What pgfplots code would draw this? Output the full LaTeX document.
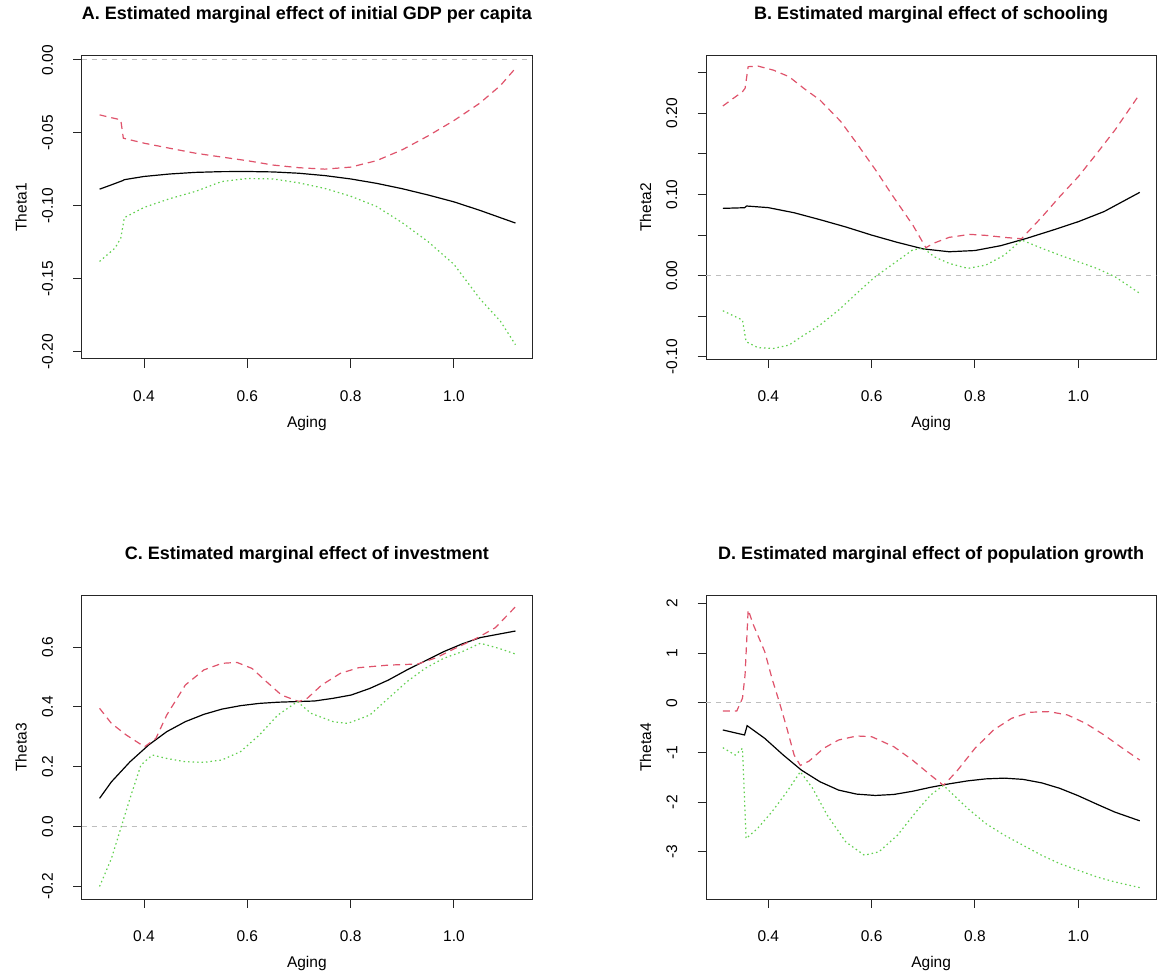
\documentclass[border=0pt]{standalone}
\usepackage{pgfplots}
\pgfplotsset{compat=1.18}
\usepackage{fontspec}
\setmainfont{Liberation Sans}
\definecolor{rred}{HTML}{DF536B}
\definecolor{rgreen}{HTML}{61D04F}
\definecolor{rgray}{HTML}{BEBEBE}
\pgfplotsset{
  rpanel/.style={
    scale only axis, width=450.3pt, height=303.3pt,
    xmin=0.2794, xmax=1.151,
    axis line style={black!85, line width=1pt},
    tick style={black!85, line width=1pt},
    tick align=outside, major tick length=8.5pt,
    xtick pos=left, ytick pos=left,
    xtick={0.4,0.6,0.8,1.0}, xticklabels={0.4,0.6,0.8,1.0},
    ticklabel style={font=\fontsize{15.5}{18}\selectfont, inner sep=0pt},
    xticklabel style={anchor=north, yshift=-22.7pt},
    yticklabel style={xshift=-20pt, rotate=90, anchor=south},
    xlabel={Aging},
    label style={font=\fontsize{15.5}{18}\selectfont},
    xlabel style={at={(axis description cs:0.5,-0.2268)}, anchor=base},
    ylabel style={at={(axis description cs:-0.1221,0.5)}, anchor=base},
    title style={at={(axis description cs:0.5,1.098)}, anchor=base, font=\fontsize{18}{21}\selectfont\bfseries},
    every axis plot/.append style={line width=1.2pt},
  },
  est/.style={black, solid},
  up/.style={rred, dash pattern=on 7pt off 5pt},
  lo/.style={rgreen, dash pattern=on 1.5pt off 3pt},
  zero/.style={rgray, dash pattern=on 5pt off 5pt, line width=1pt},
}
\begin{document}
\begin{tikzpicture}
\path[use as bounding box] (0,0) rectangle (1159pt,-976pt);
% ---------------- A
\begin{axis}[rpanel, at={(81.7pt,-55.7pt)}, anchor=north west,
  ymin=-0.2048, ymax=0.0029,
  ytick={-0.2,-0.15,-0.1,-0.05,0}, yticklabels={-0.20,-0.15,-0.10,-0.05,0.00},
  ylabel={Theta1},
  title={A. Estimated marginal effect of initial GDP per capita}]
\addplot[zero] coordinates {(0.2794,0) (1.151,0)};
\addplot[est] coordinates {
(0.314,-0.0885) (0.335,-0.0858) (0.359,-0.0826) (0.362,-0.0820) (0.40,-0.0798)
(0.45,-0.0781) (0.50,-0.0770) (0.55,-0.0765) (0.60,-0.0764) (0.65,-0.0767)
(0.70,-0.0776) (0.75,-0.0792) (0.80,-0.0815) (0.85,-0.0845) (0.90,-0.0882)
(0.95,-0.0925) (1.00,-0.0972) (1.05,-0.1030) (1.119,-0.1117)};
\addplot[up] coordinates {
(0.314,-0.0376) (0.330,-0.0390) (0.355,-0.0410) (0.360,-0.0536) (0.40,-0.0570)
(0.45,-0.0605) (0.50,-0.0639) (0.55,-0.0665) (0.60,-0.0690) (0.65,-0.0720)
(0.70,-0.0738) (0.75,-0.0748) (0.80,-0.0734) (0.85,-0.0690) (0.90,-0.0615)
(0.95,-0.0520) (1.00,-0.0415) (1.05,-0.0296) (1.09,-0.0175) (1.119,-0.0057)};
\addplot[lo] coordinates {
(0.314,-0.1380) (0.344,-0.1288) (0.355,-0.1220) (0.362,-0.1080) (0.40,-0.1010)
(0.45,-0.0950) (0.50,-0.0900) (0.55,-0.0833) (0.60,-0.0812) (0.65,-0.0815)
(0.70,-0.0842) (0.75,-0.0880) (0.80,-0.0933) (0.85,-0.1003) (0.90,-0.1115)
(0.95,-0.1245) (1.00,-0.1400) (1.05,-0.1635) (1.09,-0.1790) (1.119,-0.1950)};
\end{axis}
% ---------------- B
\begin{axis}[rpanel, at={(706pt,-55.7pt)}, anchor=north west,
  ymin=-0.1025, ymax=0.2708,
  ytick={-0.1,-0.05,0,0.05,0.1,0.15,0.2,0.25}, yticklabels={-0.10,{},0.00,{},0.10,{},0.20,{}},
  ylabel={Theta2},
  title={B. Estimated marginal effect of schooling}]
\addplot[zero] coordinates {(0.2794,0) (1.151,0)};
\addplot[est] coordinates {
(0.312,0.0829) (0.354,0.0837) (0.358,0.0858) (0.40,0.0838) (0.45,0.0775)
(0.50,0.0690) (0.55,0.0600) (0.60,0.0500) (0.65,0.0410) (0.70,0.0330)
(0.75,0.0295) (0.80,0.0310) (0.85,0.0370) (0.90,0.0460) (0.95,0.0560)
(1.00,0.0665) (1.05,0.0790) (1.119,0.1026)};
\addplot[up] coordinates {
(0.312,0.2089) (0.350,0.2265) (0.355,0.2306) (0.361,0.2573) (0.38,0.2580)
(0.41,0.2530) (0.44,0.2450) (0.47,0.2300) (0.50,0.2162) (0.54,0.1900)
(0.57,0.1640) (0.61,0.1280) (0.64,0.0990) (0.68,0.0620) (0.705,0.0345)
(0.72,0.0400) (0.75,0.0472) (0.79,0.0509) (0.82,0.0497) (0.86,0.0470)
(0.89,0.0455) (0.93,0.0726) (0.964,0.0973) (1.0,0.1219) (1.036,0.1506)
(1.071,0.1793) (1.119,0.2236)};
\addplot[lo] coordinates {
(0.312,-0.0431) (0.350,-0.0546) (0.357,-0.0812) (0.38,-0.0886) (0.41,-0.0895)
(0.44,-0.0854) (0.464,-0.0751) (0.50,-0.0607) (0.536,-0.0423) (0.571,-0.0217)
(0.607,-0.0012) (0.643,0.0152) (0.679,0.0316) (0.70,0.0340) (0.721,0.0234)
(0.75,0.0152) (0.786,0.0090) (0.821,0.0131) (0.857,0.0254) (0.89,0.0440)
(0.93,0.0336) (0.964,0.0254) (1.0,0.0172) (1.036,0.0090) (1.071,-0.0012)
(1.119,-0.0217)};
\end{axis}
% ---------------- C
\begin{axis}[rpanel, at={(81.7pt,-595.7pt)}, anchor=north west,
  ymin=-0.2418, ymax=0.772,
  ytick={-0.2,0,0.2,0.4,0.6}, yticklabels={-0.2,0.0,0.2,0.4,0.6},
  ylabel={Theta3},
  title={C. Estimated marginal effect of investment}]
\addplot[zero] coordinates {(0.2794,0) (1.151,0)};
\addplot[est] coordinates {
(0.314,0.0947) (0.337,0.150) (0.373,0.217) (0.409,0.273) (0.444,0.3175)
(0.48,0.351) (0.516,0.3755) (0.551,0.393) (0.587,0.4045) (0.623,0.412)
(0.659,0.416) (0.694,0.418) (0.73,0.420) (0.766,0.429) (0.801,0.440)
(0.837,0.462) (0.873,0.490) (0.909,0.524) (0.944,0.554) (0.98,0.585)
(1.016,0.611) (1.051,0.632) (1.119,0.654)};
\addplot[up] coordinates {
(0.314,0.3955) (0.337,0.345) (0.366,0.306) (0.401,0.267) (0.423,0.295)
(0.444,0.373) (0.48,0.4735) (0.516,0.524) (0.551,0.546) (0.58,0.549)
(0.609,0.529) (0.637,0.4847) (0.666,0.440) (0.700,0.418) (0.716,0.429)
(0.744,0.4735) (0.78,0.5125) (0.816,0.5315) (0.873,0.540) (0.93,0.5437)
(0.966,0.565) (1.001,0.595) (1.044,0.630) (1.08,0.665) (1.119,0.735)};
\addplot[lo] coordinates {
(0.314,-0.200) (0.337,-0.106) (0.351,-0.028) (0.373,0.095) (0.394,0.206)
(0.416,0.2395) (0.444,0.228) (0.48,0.217) (0.516,0.215) (0.551,0.223)
(0.587,0.251) (0.623,0.306) (0.659,0.373) (0.697,0.418) (0.723,0.379)
(0.766,0.351) (0.794,0.345) (0.837,0.373) (0.873,0.429) (0.909,0.4847)
(0.944,0.529) (0.98,0.5627) (1.016,0.585) (1.051,0.613) (1.087,0.596)
(1.119,0.577)};
\end{axis}
% ---------------- D
\begin{axis}[rpanel, at={(706pt,-595.7pt)}, anchor=north west,
  ymin=-3.95, ymax=2.16,
  ytick={-3,-2,-1,0,1,2}, yticklabels={-3,-2,-1,0,1,2},
  ylabel={Theta4},
  title={D. Estimated marginal effect of population growth}]
\addplot[zero] coordinates {(0.2794,0) (1.151,0)};
\addplot[est] coordinates {
(0.312,-0.545) (0.354,-0.646) (0.359,-0.458) (0.393,-0.713) (0.429,-1.05)
(0.464,-1.353) (0.50,-1.588) (0.536,-1.756) (0.571,-1.837) (0.607,-1.864)
(0.643,-1.844) (0.679,-1.78) (0.714,-1.70) (0.75,-1.63) (0.786,-1.57)
(0.821,-1.53) (0.857,-1.515) (0.893,-1.54) (0.929,-1.61) (0.964,-1.72)
(1.0,-1.87) (1.036,-2.04) (1.071,-2.20) (1.119,-2.375)};
\addplot[up] coordinates {
(0.312,-0.161) (0.339,-0.161) (0.350,0.094) (0.355,0.565) (0.361,1.877)
(0.371,1.575) (0.393,1.036) (0.407,0.498) (0.421,0.027) (0.436,-0.511)
(0.450,-1.05) (0.462,-1.26) (0.479,-1.171) (0.507,-0.915) (0.536,-0.747)
(0.571,-0.666) (0.60,-0.68) (0.643,-0.882) (0.679,-1.151) (0.714,-1.454)
(0.739,-1.66) (0.764,-1.386) (0.80,-0.915) (0.836,-0.545) (0.871,-0.31)
(0.907,-0.188) (0.943,-0.175) (0.979,-0.242) (1.014,-0.41) (1.05,-0.646)
(1.086,-0.915) (1.119,-1.151)};
\addplot[lo] coordinates {
(0.312,-0.902) (0.336,-1.05) (0.350,-0.915) (0.357,-2.732) (0.379,-2.53)
(0.407,-2.194) (0.436,-1.79) (0.462,-1.386) (0.486,-1.723) (0.514,-2.261)
(0.55,-2.8) (0.586,-3.069) (0.614,-3.0) (0.65,-2.665) (0.686,-2.194)
(0.714,-1.857) (0.739,-1.66) (0.786,-2.127) (0.821,-2.43) (0.857,-2.665)
(0.893,-2.867) (0.929,-3.069) (0.964,-3.237) (1.0,-3.371) (1.036,-3.506)
(1.071,-3.607) (1.119,-3.721)};
\end{axis}
\end{tikzpicture}
\end{document}
